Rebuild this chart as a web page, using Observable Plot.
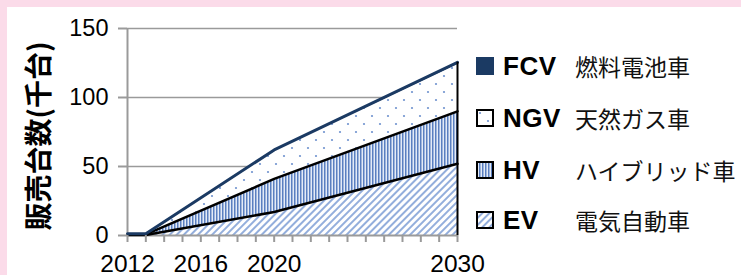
<!DOCTYPE html>
<html>
<head>
<meta charset="utf-8">
<script src="https://cdn.jsdelivr.net/npm/d3@7"></script>
<script src="https://cdn.jsdelivr.net/npm/@observablehq/plot@0.6"></script>
<style>
  html, body { margin: 0; padding: 0; }
  body { width: 741px; height: 275px; background: #fbdbe9; position: relative; overflow: hidden; }
  #panel { position: absolute; left: 7px; top: 7px; right: 0; bottom: 0; background: #fff; }
  #chart { position: absolute; left: 0; top: 0; }
  #chart svg { background: transparent !important; }
  .leg { position: absolute; left: 476px; height: 30px; display: flex; align-items: center; }
  .leg svg { display: block; }
  .code { position: absolute; left: 27px; font: bold 26px "Liberation Sans", Arial, sans-serif; letter-spacing: 0.5px; color: #000; }
  .jp { position: absolute; left: 99px; font: 23px "Noto Sans CJK JP", sans-serif; color: #111; white-space: nowrap; }
</style>
</head>
<body>
<svg width="0" height="0" style="position:absolute">
  <defs>
    <pattern id="p-ngv" patternUnits="userSpaceOnUse" width="16" height="16">
      <rect width="16" height="16" fill="#fff"/>
      <circle cx="4" cy="4" r="1.1" fill="#6f93cf"/>
      <circle cx="12" cy="12" r="1.1" fill="#6f93cf"/>
    </pattern>
    <pattern id="p-hv" patternUnits="userSpaceOnUse" width="3" height="10">
      <rect width="3" height="10" fill="#e4ebf7"/>
      <rect x="0" width="1.5" height="10" fill="#5a7fc0"/>
    </pattern>
    <pattern id="p-ev" patternUnits="userSpaceOnUse" width="5" height="5" patternTransform="rotate(45)">
      <rect width="5" height="5" fill="#fff"/>
      <rect x="0" width="2" height="5" fill="#93aedc"/>
    </pattern>
  </defs>
</svg>
<div id="panel"></div>
<div id="chart"></div>
<div id="legend"></div>
<script>
const years = [2012, 2013, 2020, 2030];
const ev  = [0.4, 0.4, 17, 52];
const hv  = [0.4, 0.4, 24, 38];
const ngv = [0.2, 0.2, 20, 34];
const fcv = [0.2, 0.2, 1, 1.5];
const seriesNames = ["FCV", "NGV", "HV", "EV"];
const seriesJp = ["燃料電池車", "天然ガス車", "ハイブリッド車", "電気自動車"];
const yTicks = [0, 50, 100, 150];
const xLabelYears = [2012, 2016, 2020, 2030];
const yLabel = "販売台数(千台)";

const rows = years.map((yr, i) => {
  const e = ev[i], h = e + hv[i], n = h + ngv[i], f = n + fcv[i];
  return {year: yr, ev: e, hv: h, ngv: n, fcv: f};
});
const last = rows[rows.length - 1];
const gray = "#9a9a9a";
const font = '"Liberation Sans", Arial, sans-serif';

const plot = Plot.plot({
  width: 741,
  height: 275,
  marginLeft: 127,
  marginRight: 284,
  marginTop: 28,
  marginBottom: 40,
  style: {fontFamily: font, background: "transparent", overflow: "visible"},
  x: {domain: [2012, 2030]},
  y: {domain: [0, 150]},
  marks: [
    Plot.ruleY(yTicks.slice(1), {stroke: gray, strokeWidth: 1.5}),
    Plot.areaY(rows, {x: "year", y1: 0, y2: "ev", fill: "url(#p-ev)"}),
    Plot.areaY(rows, {x: "year", y1: "ev", y2: "hv", fill: "url(#p-hv)"}),
    Plot.areaY(rows, {x: "year", y1: "hv", y2: "ngv", fill: "url(#p-ngv)"}),
    Plot.areaY(rows, {x: "year", y1: "ngv", y2: "fcv", fill: "#1b3a63"}),
    Plot.ruleX([2012], {stroke: gray, strokeWidth: 2}),
    Plot.ruleY([0], {stroke: gray, strokeWidth: 2}),
    Plot.lineY(rows, {x: "year", y: "ev", stroke: "#000", strokeWidth: 2.5}),
    Plot.lineY(rows, {x: "year", y: "hv", stroke: "#000", strokeWidth: 2.5}),
    Plot.lineY(rows, {x: "year", y: "fcv", stroke: "#1b3a63", strokeWidth: 3}),
    Plot.ruleX([last], {x: "year", y1: 0, y2: "fcv", stroke: "#000", strokeWidth: 2}),
    Plot.axisY({ticks: yTicks, tickSize: 9, tickPadding: 10, stroke: gray, strokeWidth: 2, strokeOpacity: 1, fontSize: 23.5, label: null, color: "#000"}),
    Plot.axisX({ticks: d3.range(2012, 2031), tickSize: 7, tickPadding: 12, stroke: gray, strokeWidth: 2, strokeOpacity: 1, fontSize: 24.5, label: null,
      tickFormat: d => xLabelYears.includes(d) ? String(d) : ""}),
    Plot.text([yLabel], {frameAnchor: "left", textAnchor: "middle", rotate: -90, dx: -87, dy: 4, fontSize: 28, fontWeight: "bold", fontFamily: '"Noto Sans CJK JP", sans-serif', fill: "#000"})
  ]
});
document.getElementById("chart").appendChild(plot);

// legend
const legendTops = [51, 103, 155, 205];
const swatchFill = ["#1b3a63", "url(#p-ngv)", "url(#p-hv)", "url(#p-ev)"];
const leg = document.getElementById("legend");
seriesNames.forEach((name, i) => {
  const d = document.createElement("div");
  d.className = "leg";
  d.style.top = legendTops[i] + "px";
  d.innerHTML = `<svg width="18" height="18"><rect x="1" y="1" width="16" height="16" fill="${swatchFill[i]}" stroke="${i === 0 ? '#1b3a63' : '#000'}" stroke-width="2"/></svg>` +
    `<span class="code">${name}</span><span class="jp">${seriesJp[i]}</span>`;
  leg.appendChild(d);
});
</script>
</body>
</html>
